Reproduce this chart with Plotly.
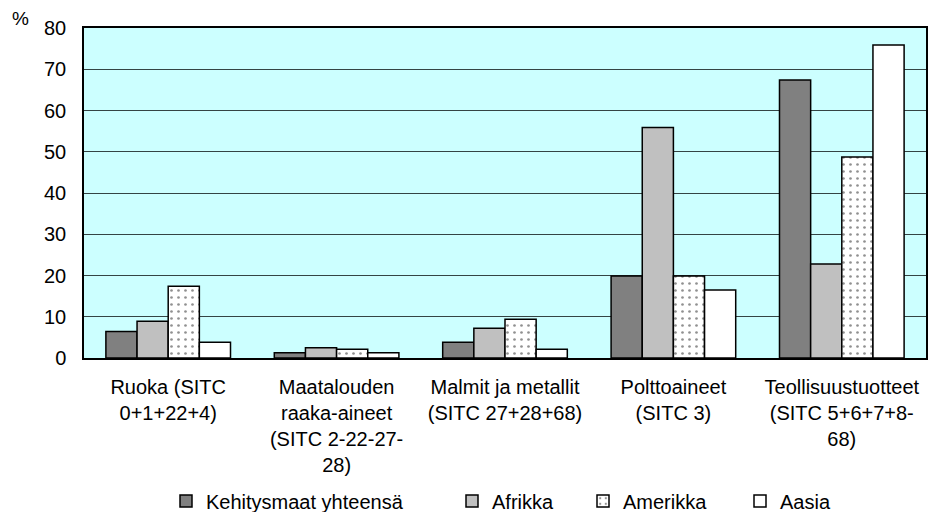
import plotly.graph_objects as go

categories = [
    "Ruoka (SITC<br>0+1+22+4)",
    "Maatalouden<br>raaka-aineet<br>(SITC 2-22-27-<br>28)",
    "Malmit ja metallit<br>(SITC 27+28+68)",
    "Polttoaineet<br>(SITC 3)",
    "Teollisuustuotteet<br>(SITC 5+6+7+8-<br>68)",
]
series_names = ["Kehitysmaat yhteensä", "Afrikka", "Amerikka", "Aasia"]
kehitysmaat = [6.4, 1.3, 3.8, 19.9, 67.4]
afrikka = [8.9, 2.5, 7.2, 55.9, 22.8]
amerikka = [17.4, 2.1, 9.4, 19.9, 48.7]
aasia = [3.8, 1.3, 2.1, 16.5, 75.9]
y_ticks = [0, 10, 20, 30, 40, 50, 60, 70, 80]

W, H = 930, 512
FONT = "Arial, Liberation Sans, sans-serif"
FS = 20

series_values = [kehitysmaat, afrikka, amerikka, aasia]
fills = ["#808080", "#C0C0C0", "#FFFFFF", "#FFFFFF"]
legend_ids = ["legend", "legend2", "legend3", "legend4"]
legend_x = [166, 452, 583, 740]

fig = go.Figure()
for i, (name, vals) in enumerate(zip(series_names, series_values)):
    marker = dict(color=fills[i], line=dict(color="#000000", width=1.5))
    if i == 2:
        marker["pattern"] = dict(shape=".", fgcolor="#222222", bgcolor="#FFFFFF",
                                 size=7, solidity=0.12, fillmode="overlay")
    fig.add_trace(go.Bar(x=categories, y=vals, name=name, marker=marker,
                         legend=legend_ids[i]))

legend_common = dict(orientation="h", xref="container", yref="container",
                     xanchor="left", yanchor="middle",
                     font=dict(family=FONT, size=FS, color="#000"),
                     bgcolor="rgba(0,0,0,0)", borderwidth=0,
                     itemwidth=30)
layout_legends = {}
for lid, lx in zip(legend_ids, legend_x):
    layout_legends[lid] = dict(legend_common, x=lx / W, y=1 - 501 / H)

fig.update_layout(
    width=W, height=H,
    margin=dict(l=84, r=4, t=28, b=154, autoexpand=False),
    paper_bgcolor="#FFFFFF",
    plot_bgcolor="#CCFFFF",
    barmode="group",
    bargap=0.26,
    bargroupgap=0,
    font=dict(family=FONT, size=FS, color="#000"),
    showlegend=True,
    xaxis=dict(showline=True, linecolor="#000", linewidth=1.5, mirror=True,
               ticks="", tickfont=dict(family=FONT, size=FS, color="#000"),
               ticklabelstandoff=10, tickangle=0, automargin=False),
    yaxis=dict(range=[0, 80], tickvals=y_ticks, showline=True, linecolor="#000",
               linewidth=1.5, mirror=True, showgrid=True, gridcolor="#344444",
               gridwidth=1, zeroline=False, ticks="",
               tickfont=dict(family=FONT, size=FS, color="#000"),
               ticklabelstandoff=12, automargin=False),
    annotations=[dict(text="%", xref="paper", yref="paper", x=-74 / (W - 88),
                      y=1 + 10 / 330, xanchor="left", yanchor="middle",
                      showarrow=False, font=dict(family=FONT, size=19, color="#000"))],
    **layout_legends,
)

fig.write_html(
    "out.html",
    config={"displayModeBar": False},
    post_script="document.body.style.margin='0';document.body.style.overflow='hidden';",
)
